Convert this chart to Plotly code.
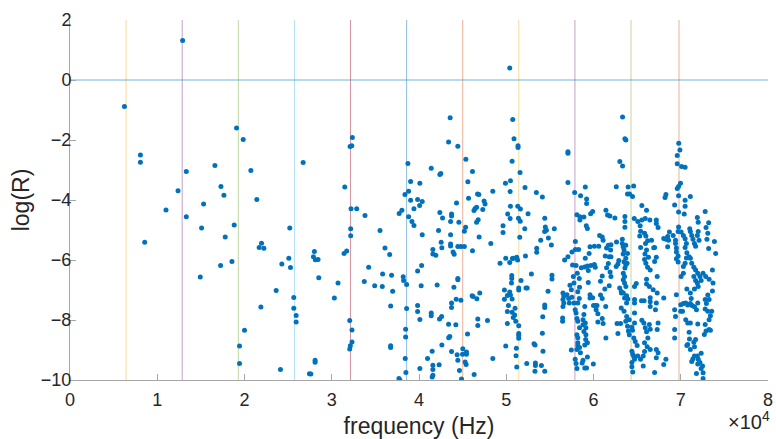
import plotly.graph_objects as go

# ---- data ----
freq_hz = [
 6240, 8070, 8070, 8560, 11000, 12380, 12910, 13330, 13330,
 16610, 17300, 17640, 15310, 15080, 17790, 18820, 17260, 18560, 14930, 19090, 19850, 20730, 21410,
 21950, 21680, 22220, 25190, 25080, 24280, 25270, 23630, 21880, 25650, 25650, 25920, 25920, 20000,
 19430, 19430, 24120, 26720, 27440,
 32360, 32100, 32300, 31490, 32210, 32860, 33810, 32170, 32170, 31410, 31710, 28010, 27900, 28120,
 28430, 28510, 30720, 30300, 32060, 32320, 32320, 32130, 32060, 28090, 28090, 27600, 34230, 33730,
 34920, 35530, 36100, 36640, 35830, 35790, 36860, 36980, 36750, 36750, 36750, 37700, 37800, 38730,
 39040, 40100, 38810, 38390, 39040, 39840, 40370, 40070, 39420, 38040, 37730, 38810, 39190, 39420,
 40370, 40300, 39840, 38190, 38240, 38580, 40250, 38580, 39840, 39840, 40100, 38470, 38470, 38420,
 38500, 40100, 40980,
 50400, 43570, 50740, 43390, 44450, 50890, 51350, 51350, 45370, 50670, 41400, 46130, 42390, 42500,
 45600, 51580, 49910, 50480, 50440, 52150, 48460, 46710, 46860, 45680, 53450, 54140, 47460, 47570,
 44300, 46430, 46300, 46600, 47310, 50480, 51320, 51620, 52500, 50170, 42390, 43730, 43730, 42700,
 43620, 44570, 46780, 46600, 50440, 51400, 51600, 52120, 54410, 45340, 45200, 42240, 43620, 49630,
 49630, 54480, 54600, 54400, 51550, 46890, 42540, 43620, 43620, 41590, 42620, 44450, 44800, 45200,
 41590, 41930, 43910, 44030, 46130, 48230, 53950, 54830, 53490, 53490, 49290, 49940, 50400, 50700,
 50820, 51200, 51300, 52200, 52880, 50630, 50630, 50600, 44450, 44450, 42080, 44000, 49790, 50400,
 51430, 51430, 51690, 52260, 52400, 54790, 46090, 46200, 46970, 46630, 44260, 44800, 43730, 43730,
 50130, 50480, 50670, 49790, 50250, 51010, 50130, 41400, 41400, 42590, 42350, 50670, 50970, 50800,
 51090, 54410, 54410, 54180, 46740, 46740, 47850, 43390, 44220, 50130, 51430, 51430, 51430, 51430,
 45560, 54140, 43530, 43400, 42620, 53180, 53300, 49940, 51160, 41510, 43730, 45020, 45440, 45440,
 54210, 44370, 44990, 44450, 45290, 45400, 48460, 51120, 52350, 53340, 53340, 53290, 54030, 54410,
 41590, 41590, 41590, 41510, 42310, 44640, 44870, 46320, 51200,
 63330, 63600, 63710, 57070, 57070, 63020, 63330, 57070, 57840, 58520, 59060, 59210, 59210, 62610,
 63970, 64600, 63900, 64130, 64470, 58100, 58440, 58440, 58900, 59670, 59900, 59170, 59300, 61420,
 61610, 61880, 62450, 63600, 63600, 63600, 65540, 66080, 64670, 65080, 65540, 65930, 66460, 65350,
 65400, 65300, 65850, 66000, 66200, 66650, 66900, 65960, 65400, 55510, 55170, 55240, 55240, 56690,
 57070, 57530, 57920, 58290, 57920, 57600, 58000, 56500, 56600, 56500, 56600, 56500, 56460, 56460,
 56960, 57150, 57230, 57460, 57300, 57530, 57760, 57690, 57760, 58140, 58370, 58200, 58370, 58200,
 57900, 58000, 58100, 58200, 58400, 58100, 58200, 58200, 58400, 58100, 58200, 57460, 57900, 58000,
 58100, 58700, 58800, 59000, 59200, 58500, 59000, 59300, 59100, 58900, 58800, 59060, 58800, 59130,
 58900, 59130, 59000, 59980, 59300, 59600, 59600, 59900, 60000, 60200, 60400, 60300, 60500, 60500,
 61000, 61100, 61420, 60800, 61000, 61300, 61800, 62000, 61400, 62700, 62800, 58600, 59000, 59300,
 59700, 60100, 59400, 60200, 59060, 59500, 59600, 60100, 60600, 60700, 61000, 61100, 59400, 58400,
 60800, 61000, 61350, 61500, 61700, 62000, 61960, 61800, 61700, 62000, 61500, 61900, 62640, 62900,
 62800, 62600, 63300, 63400, 63500, 63400, 63700, 63500, 63700, 63600, 63300, 63700, 63900, 63850,
 63410, 63560, 63410, 63560, 63710, 63180, 63410, 63790, 63560, 63940, 63790, 63000, 63200, 63180,
 63500, 63800, 63700, 63900, 64000, 63100, 64100, 64400, 64100, 64470, 64620, 64780, 65000, 64400,
 64500, 64600, 64700, 64400, 64400, 64500, 65080, 65390, 65700, 65850, 64700, 64700, 64700, 64700,
 64900, 64700, 65500, 65800, 65540, 65770, 65930, 66080, 66230, 65850, 66150, 66500, 65700, 66400,
 66500, 66500, 66500, 66500, 66080, 66080, 66400, 66840, 65850, 66080, 65900, 66300, 66000, 66200,
 66500, 67000,
 69770, 69900, 69600, 69600, 70100, 70500, 69970, 69750, 69600, 68300, 68200, 69750, 69300, 70500,
 71100, 70500, 69750, 70400, 72800, 71900, 72000, 73200, 72900, 73100, 67200, 67200, 67400, 67000,
 67200, 68050, 68300, 68700, 68500, 68600, 68500, 69130, 69400, 69400, 69500, 69500, 69700, 69500,
 69700, 69750, 69700, 70040, 70300, 70500, 70650, 70500, 70700, 70960, 70650, 70500, 70300, 70300,
 70040, 71030, 71100, 71260, 71400, 71570, 71700, 71900, 72000, 72100, 73000, 73200, 73860, 74000,
 71100, 71260, 71500, 71700, 71950, 72200, 72340, 71500, 71700, 71900, 72000, 72560, 72860, 73250,
 73630, 73700, 73630, 67300, 67300, 67200, 67100, 67400, 67300, 67200, 67400, 67200, 67000, 68050,
 68300, 68050, 69300, 69400, 69300, 69300, 69500, 70000, 70300, 70000, 70200, 70570, 70800, 71100,
 71300, 71570, 71800, 71950, 70570, 70800, 71100, 70700, 71100, 71570, 71200, 72800, 72940, 73250,
 73100, 72800, 73100, 73400, 73550, 73250, 71950, 70960, 71000, 70800, 70700, 71100, 71500, 71570,
 71700, 71570, 71400, 71260, 71900, 72000, 72200, 72340, 72500, 72340, 72560, 72560, 71950, 71800,
 72800, 72900, 72700, 73250, 73400,
]
log_r = [
 -0.88, -2.50, -2.74, -5.41, -4.33, -3.69, 1.32, -3.05, -4.56,
 -2.85, -3.55, -3.84, -4.13, -4.93, -5.23, -4.83, -6.18, -6.05, -6.57, -1.60, -1.98, -3.02, -3.98,
 -5.44, -5.58, -5.61, -4.93, -5.94, -6.13, -6.25, -7.02, -7.57, -7.25, -7.61, -7.85, -8.07, -8.34,
 -8.87, -9.45, -9.65, -2.75, -9.79,
 -1.92, -2.22, -2.19, -3.57, -4.29, -4.29, -4.52, -4.96, -5.19, -5.78, -5.70, -5.72, -5.89, -5.99,
 -5.98, -6.59, -6.77, -7.27, -8.02, -8.33, -8.73, -8.86, -8.97, -9.34, -9.41, -9.80, -6.24, -6.72,
 -6.86, -5.02, -5.60, -5.82, -6.47, -6.88, -6.51, -7.04, -7.53, -8.86, -8.92, -9.95, -9.99, -2.78,
 -3.38, -3.44, -3.71, -3.82, -4.01, -3.98, -4.05, -4.18, -4.29, -4.34, -4.45, -4.56, -4.72, -4.85,
 -5.16, -6.18, -6.37, -6.56, -6.68, -6.82, -6.86, -7.62, -7.52, -7.72, -7.98, -8.31, -8.57, -9.28,
 -9.75, -9.62, -9.28,
 0.40, -1.26, -1.32, -2.07, -2.21, -1.96, -2.19, -2.25, -2.64, -2.71, -2.94, -3.05, -3.15, -3.12,
 -3.39, -3.08, -3.44, -3.36, -3.72, -3.58, -3.71, -3.80, -3.82, -3.94, -3.75, -3.90, -4.03, -4.13,
 -4.10, -4.28, -4.35, -4.24, -4.32, -4.21, -4.21, -4.30, -4.46, -4.47, -4.42, -4.47, -4.53, -4.60,
 -4.72, -4.74, -4.66, -4.74, -4.62, -4.61, -4.71, -4.96, -4.61, -4.91, -5.04, -5.02, -5.16, -4.86,
 -5.08, -4.90, -5.01, -5.05, -5.24, -5.23, -5.41, -5.47, -5.53, -5.65, -5.59, -5.55, -5.55, -5.55,
 -5.80, -5.84, -5.73, -5.81, -5.69, -5.45, -5.34, -5.27, -5.61, -5.74, -6.11, -5.94, -6.08, -5.95,
 -5.94, -5.91, -6.00, -5.87, -6.47, -6.52, -6.62, -6.77, -6.62, -6.66, -6.83, -6.91, -7.00, -7.07,
 -6.93, -7.00, -6.68, -6.93, -6.93, -7.04, -7.19, -7.22, -7.10, -7.29, -7.31, -7.34, -7.43, -7.58,
 -7.18, -7.17, -7.30, -7.31, -7.52, -7.61, -7.72, -7.77, -7.86, -7.88, -7.97, -7.74, -7.83, -7.92,
 -8.04, -7.50, -7.58, -7.89, -7.97, -8.18, -8.02, -8.14, -8.16, -8.12, -8.19, -8.45, -8.52, -8.61,
 -8.47, -8.44, -8.55, -8.59, -8.83, -8.79, -8.83, -8.87, -8.94, -9.04, -9.05, -8.96, -9.07, -9.14,
 -9.04, -9.16, -9.14, -9.34, -9.40, -9.48, -9.28, -9.19, -9.45, -9.43, -9.52, -9.71, -9.52, -9.71,
 -9.51, -9.65, -9.84, -9.90, -9.49, -9.68, -9.97, -9.82, -9.57,
 -1.23, -1.96, -2.00, -2.39, -2.44, -2.72, -2.87, -3.42, -3.75, -3.86, -3.57, -3.97, -4.12, -3.56,
 -3.57, -3.53, -3.80, -3.80, -3.88, -4.49, -4.56, -4.67, -4.57, -4.46, -4.38, -4.86, -4.95, -4.34,
 -4.50, -4.53, -4.60, -4.55, -4.72, -4.91, -4.18, -4.34, -4.62, -4.72, -4.67, -4.62, -4.67, -4.86,
 -5.04, -5.20, -5.11, -5.20, -5.36, -5.34, -5.59, -5.45, -5.58, -4.96, -5.50, -6.51, -6.63, -6.00,
 -5.89, -5.73, -5.65, -5.65, -5.38, -6.17, -6.18, -7.10, -7.21, -7.32, -7.43, -7.55, -7.93, -8.04,
 -7.16, -7.28, -7.43, -6.99, -6.84, -7.24, -7.43, -6.55, -6.77, -6.44, -6.62, -7.06, -7.28, -7.43,
 -7.66, -7.77, -7.95, -8.04, -8.26, -8.49, -8.59, -8.76, -8.92, -8.98, -8.85, -9.00, -9.31, -9.45,
 -9.62, -9.43, -9.34, -9.60, -9.60, -9.09, -8.83, -8.76, -8.65, -7.82, -7.99, -8.10, -8.16, -8.26,
 -8.38, -8.49, -7.55, -9.47, -9.23, -7.16, -7.27, -7.26, -7.52, -7.52, -7.52, -7.66, -7.79, -8.07,
 -7.95, -8.12, -8.60, -7.17, -7.28, -6.97, -6.86, -6.55, -7.55, -8.12, -8.45, -6.26, -6.23, -6.20,
 -6.18, -6.15, -6.35, -6.24, -5.94, -5.78, -5.56, -5.54, -5.54, -5.18, -5.23, -5.34, -6.75, -6.91,
 -6.71, -6.53, -5.87, -5.60, -5.51, -5.49, -5.67, -5.89, -6.12, -5.89, -6.26, -6.40, -5.40, -6.02,
 -6.13, -6.22, -5.45, -5.56, -5.67, -5.80, -5.94, -6.06, -6.16, -6.27, -5.31, -5.51, -5.78, -6.11,
 -6.44, -6.55, -6.66, -6.77, -6.88, -7.05, -7.10, -7.19, -7.27, -7.30, -7.43, -6.93, -7.10, -7.60,
 -7.71, -7.88, -8.04, -8.21, -8.37, -8.12, -7.99, -8.24, -8.49, -8.34, -8.60, -8.72, -8.85, -9.04,
 -9.14, -9.20, -9.31, -9.42, -9.56, -9.73, -9.20, -9.31, -9.20, -9.05, -7.32, -7.43, -7.77, -8.10,
 -6.78, -6.88, -7.36, -7.36, -8.01, -8.10, -8.26, -8.39, -8.60, -8.76, -8.89, -8.98, -9.53, -8.15,
 -8.31, -7.55, -7.39, -7.26, -6.64, -6.80, -6.88, -6.99, -5.98, -5.67, -5.80, -5.91, -6.11, -6.24,
 -6.33, -6.05,
 -2.11, -2.33, -2.52, -2.79, -2.88, -2.91, -3.44, -3.55, -3.62, -3.82, -3.92, -3.86, -4.17, -4.01,
 -3.88, -4.21, -4.40, -4.47, -4.38, -4.58, -4.74, -4.76, -4.92, -5.11, -4.67, -4.78, -4.92, -5.58,
 -5.91, -5.28, -5.31, -5.07, -5.22, -5.34, -5.56, -5.18, -5.34, -5.45, -5.60, -5.73, -5.87, -5.96,
 -6.07, -4.90, -5.05, -5.07, -5.18, -5.29, -5.45, -5.58, -5.76, -5.89, -5.93, -6.11, -6.22, -6.44,
 -6.55, -4.96, -5.05, -5.18, -5.31, -5.45, -5.54, -5.18, -5.05, -5.34, -5.31, -5.62, -5.38, -5.78,
 -5.94, -6.11, -6.24, -6.33, -6.44, -6.55, -6.68, -6.55, -6.68, -6.77, -6.88, -6.44, -6.55, -6.64,
 -6.33, -6.77, -7.03, -6.55, -7.10, -7.43, -7.66, -8.10, -8.32, -8.98, -9.09, -9.26, -9.75, -7.27,
 -9.31, -9.48, -7.66, -7.88, -8.32, -8.60, -7.16, -7.49, -7.45, -7.71, -7.71, -7.43, -7.50, -7.45,
 -7.52, -7.56, -7.66, -7.43, -7.99, -8.10, -8.10, -6.97, -7.10, -6.97, -7.28, -7.32, -7.45, -7.32,
 -7.17, -7.63, -7.71, -7.86, -7.71, -7.99, -8.13, -8.41, -8.63, -8.82, -8.85, -8.98, -8.74, -8.89,
 -8.65, -9.20, -9.29, -9.38, -9.20, -9.31, -9.42, -9.11, -9.53, -9.62, -9.76, -9.95, -9.47, -9.78,
 -8.15, -8.37, -8.48, -8.32, -8.34,
]

harmonics_hz = [6430, 12860, 19290, 25720, 32150, 38580, 45010, 51440, 57870, 64300, 69800]
harmonic_colors = ['#EDB120', '#7E2F8E', '#77AC30', '#4DBEEE', '#A2142F', '#0072BD',
                   '#D95319', '#EDB120', '#7E2F8E', '#77AC30', '#D95319']
x_ticks_hz = [0, 10000, 20000, 30000, 40000, 50000, 60000, 70000, 80000]
x_tick_text = ['0', '1', '2', '3', '4', '5', '6', '7', '8']
y_ticks = [-10, -8, -6, -4, -2, 0, 2]
x_range = [0, 80000]
y_range = [-10, 2]

font_family = 'Liberation Sans, Arial, Helvetica, sans-serif'
axis_grey = '#a6a6a6'
text_dark = '#262626'

fig = go.Figure()
fig.add_trace(go.Scatter(
    x=freq_hz, y=log_r, mode='markers',
    marker=dict(color='#0072BD', size=5, line=dict(width=0)),
    hoverinfo='x+y', showlegend=False,
))

for h, c in zip(harmonics_hz, harmonic_colors):
    fig.add_vline(x=h, line=dict(color=c, width=1), opacity=0.45, layer='below')
fig.add_hline(y=0, line=dict(color='#0072BD', width=1.5), opacity=0.35, layer='below')

fig.update_layout(
    width=776, height=439,
    margin=dict(l=70, r=8, t=20, b=59),
    paper_bgcolor='white', plot_bgcolor='white',
    font=dict(family=font_family, color=text_dark, size=18),
    showlegend=False,
)
fig.update_xaxes(
    range=x_range, tickvals=x_ticks_hz, ticktext=x_tick_text,
    showgrid=False, zeroline=False, showline=True, linecolor=axis_grey, linewidth=1,
    ticks='inside', ticklen=6, tickcolor=axis_grey, tickwidth=1,
    tickfont=dict(size=18, color=text_dark), ticklabelstandoff=3,
    title=dict(text='frequency (Hz)', font=dict(size=23, color=text_dark), standoff=9),
    mirror=False, automargin=False,
)
fig.update_yaxes(
    range=y_range, tickvals=y_ticks,
    showgrid=False, zeroline=False, showline=True, linecolor=axis_grey, linewidth=1,
    ticks='inside', ticklen=6, tickcolor=axis_grey, tickwidth=1,
    tickfont=dict(size=18, color=text_dark), ticklabelstandoff=-6,
    title=dict(text='log(R)', font=dict(size=23, color=text_dark), standoff=4),
    mirror=False, automargin=False,
)
fig.add_annotation(
    text='×10<sup>4</sup>', xref='paper', yref='paper', x=1.0, y=0, xshift=4, yshift=-26,
    xanchor='right', yanchor='top', showarrow=False,
    font=dict(size=20, color=text_dark, family=font_family),
)

fig.write_html('out.html', config={'displayModeBar': False},
               post_script="document.body.style.margin='0';")
